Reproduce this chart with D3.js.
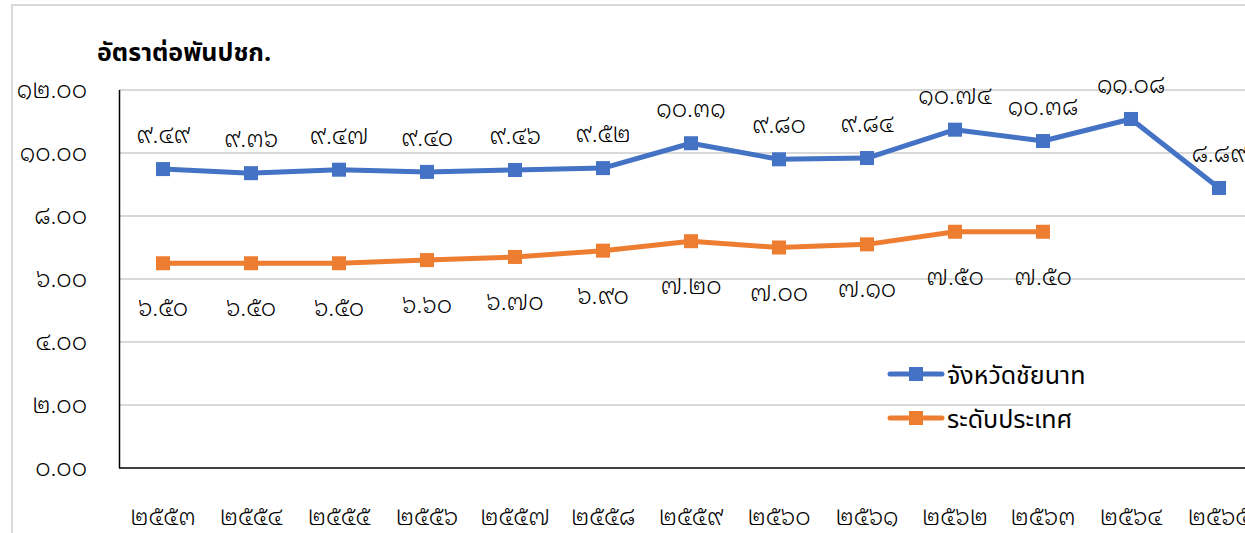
<!DOCTYPE html>
<html lang="th">
<head>
<meta charset="UTF-8"/>
<title>อัตราต่อพันปชก.</title>
<script src="https://d3js.org/d3.v7.min.js"></script>
<style>
  body { margin: 0; background: #fff; }
  text { font-family: "Noto Sans Thai", sans-serif; fill: #000; }
  text.num { font-family: "Noto Sans Thai Looped", "Noto Serif Thai", sans-serif; font-weight: 300; }
</style>
</head>
<body>
<script>
    var years = ["๒๕๕๓", "๒๕๕๔", "๒๕๕๕", "๒๕๕๖", "๒๕๕๗", "๒๕๕๘", "๒๕๕๙",
                 "๒๕๖๐", "๒๕๖๑", "๒๕๖๒", "๒๕๖๓", "๒๕๖๔", "๒๕๖๕"];
    var chainat = [9.49, 9.36, 9.47, 9.40, 9.46, 9.52, 10.31, 9.80, 9.84, 10.74, 10.38, 11.08, 8.89];
    var country = [6.50, 6.50, 6.50, 6.60, 6.70, 6.90, 7.20, 7.00, 7.10, 7.50, 7.50];
    var yTicks = [0, 2, 4, 6, 8, 10, 12];
    var seriesNames = ["จังหวัดชัยนาท", "ระดับประเทศ"];
    var colors = ["#4472C4", "#ED7D31"];

    var w = 1245;
    var h = 533;

    var thaiDigits = "๐๑๒๓๔๕๖๗๘๙";
    function toThai(v) {
        return v.toFixed(2).replace(/[0-9]/g, function(c) { return thaiDigits[+c]; });
    }

    var xScale = d3.scalePoint()
                   .domain(years)
                   .range([119, 1263])
                   .padding(0.5);

    var yScale = d3.scaleLinear()
                   .domain([0, 12])
                   .range([468, 90]);

    var svg = d3.select("body")
                .append("svg")
                .attr("width", w)
                .attr("height", h);

    // outer chart border
    svg.append("rect")
       .attr("x", 12).attr("y", 5)
       .attr("width", 1260).attr("height", 560)
       .attr("fill", "none")
       .attr("stroke", "#d9d9d9")
       .attr("stroke-width", 2);

    svg.append("text")
       .attr("x", 97).attr("y", 61)
       .attr("font-size", "25px")
       .attr("font-weight", "bold")
       .text("อัตราต่อพันปชก.");

    // gridlines
    svg.selectAll(".grid")
       .data(yTicks.slice(1))
       .enter()
       .append("line")
       .attr("x1", 119).attr("x2", w)
       .attr("y1", function(d) { return yScale(d); })
       .attr("y2", function(d) { return yScale(d); })
       .attr("stroke", "#d9d9d9")
       .attr("stroke-width", 2);

    // y tick labels
    svg.selectAll(".ytick")
       .data(yTicks)
       .enter()
       .append("text")
       .attr("class", "num")
       .attr("x", 87)
       .attr("y", function(d) { return yScale(d) + 8; })
       .attr("text-anchor", "end")
       .attr("font-size", "24px")
       .text(function(d) { return toThai(d); });

    // axes lines
    svg.append("line")
       .attr("x1", 119.5).attr("x2", 119.5)
       .attr("y1", 90).attr("y2", 468)
       .attr("stroke", "#000").attr("stroke-width", 1.5);
    svg.append("line")
       .attr("x1", 119).attr("x2", w)
       .attr("y1", 468).attr("y2", 468)
       .attr("stroke", "#000").attr("stroke-width", 1.5);

    // x tick labels
    svg.selectAll(".xtick")
       .data(years)
       .enter()
       .append("text")
       .attr("class", "num")
       .attr("x", function(d) { return xScale(d); })
       .attr("y", 525)
       .attr("text-anchor", "middle")
       .attr("font-size", "24px")
       .text(function(d) { return d; });

    var line = d3.line()
                 .x(function(d, i) { return xScale(years[i]); })
                 .y(function(d) { return yScale(d); });

    var series = [chainat, country];
    var labelOffset = [-26, 53];

    series.forEach(function(data, s) {
        svg.append("path")
           .datum(data)
           .attr("d", line)
           .attr("fill", "none")
           .attr("stroke", colors[s])
           .attr("stroke-width", 5)
           .attr("stroke-linejoin", "round");

        svg.selectAll(".m" + s)
           .data(data)
           .enter()
           .append("rect")
           .attr("x", function(d, i) { return xScale(years[i]) - 7; })
           .attr("y", function(d) { return yScale(d) - 7; })
           .attr("width", 14).attr("height", 14)
           .attr("fill", colors[s]);

        svg.selectAll(".l" + s)
           .data(data)
           .enter()
           .append("text")
           .attr("class", "num")
           .attr("x", function(d, i) { return xScale(years[i]); })
           .attr("y", function(d) { return yScale(d) + labelOffset[s]; })
           .attr("text-anchor", "middle")
           .attr("font-size", "24px")
           .text(function(d) { return toThai(d); });
    });

    // legend
    seriesNames.forEach(function(name, s) {
        var ly = 374 + s * 44;
        svg.append("line")
           .attr("x1", 890).attr("x2", 942)
           .attr("y1", ly).attr("y2", ly)
           .attr("stroke", colors[s])
           .attr("stroke-width", 5)
           .attr("stroke-linecap", "round");
        svg.append("rect")
           .attr("x", 909).attr("y", ly - 7)
           .attr("width", 14).attr("height", 14)
           .attr("fill", colors[s]);
        svg.append("text")
           .attr("x", 947).attr("y", ly + 10)
           .attr("font-size", "25px")
           .text(name);
    });
</script>
</body>
</html>
